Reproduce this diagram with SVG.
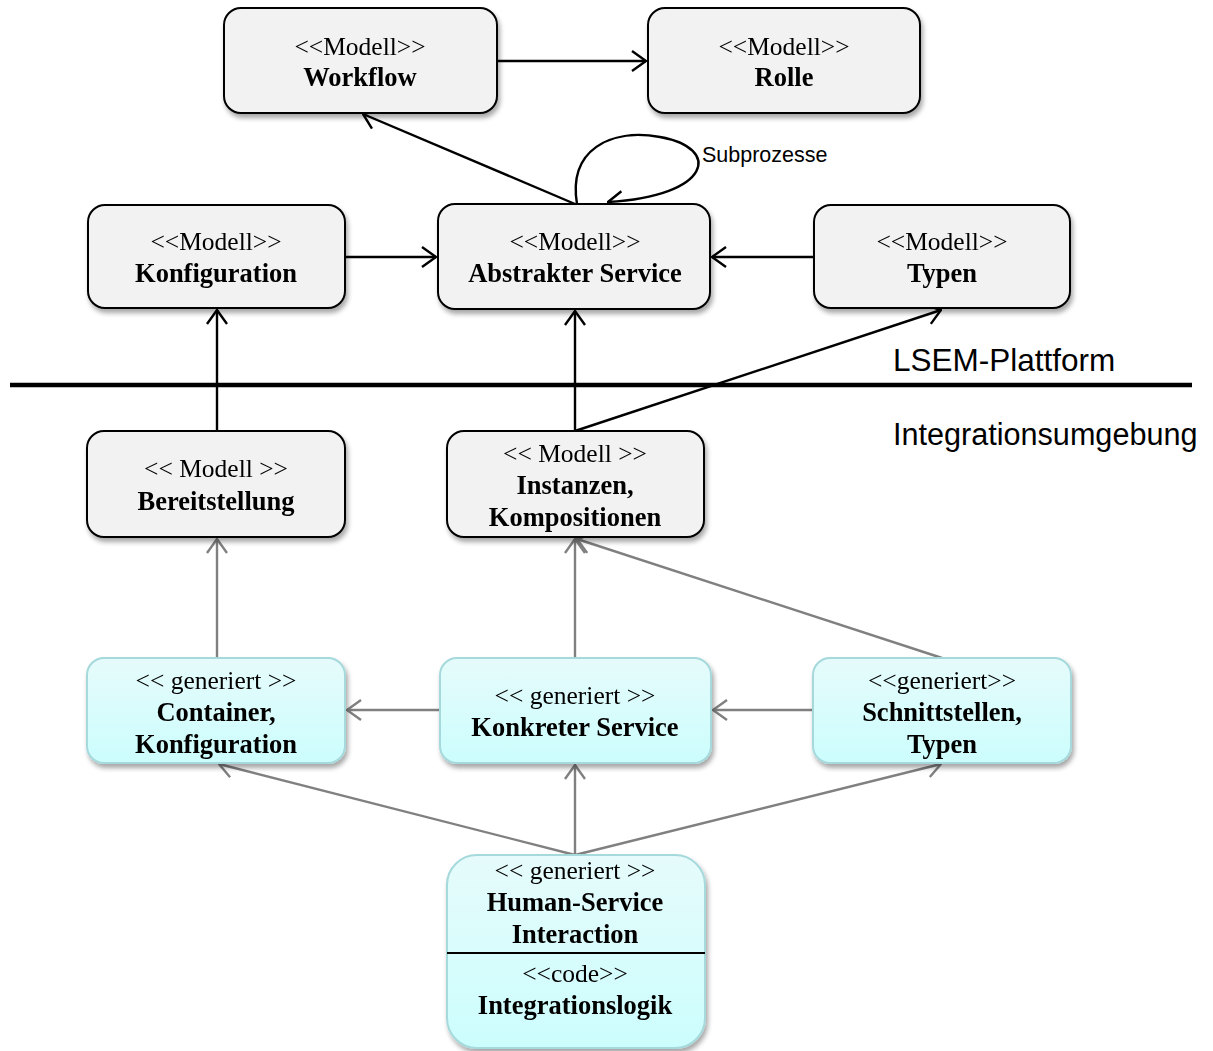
<svg xmlns="http://www.w3.org/2000/svg" width="1213" height="1051" viewBox="0 0 1213 1051">
  <defs>
    <linearGradient id="gen" x1="0" y1="0" x2="0" y2="1">
      <stop offset="0" stop-color="#e6fbfb"/>
      <stop offset="1" stop-color="#ccfdfd"/>
    </linearGradient>
    <filter id="shadow" x="-10%" y="-10%" width="125%" height="130%">
      <feGaussianBlur in="SourceAlpha" stdDeviation="2.5"/>
      <feOffset dx="2" dy="4" result="b"/>
      <feComponentTransfer><feFuncA type="linear" slope="0.35"/></feComponentTransfer>
      <feMerge><feMergeNode/><feMergeNode in="SourceGraphic"/></feMerge>
    </filter>
    <marker id="arrB" viewBox="0 0 16 24" refX="15" refY="12" markerWidth="16" markerHeight="24" markerUnits="userSpaceOnUse" orient="auto">
      <path d="M1,2 L15,12 L1,22" fill="none" stroke="#000" stroke-width="2.4"/>
    </marker>
    <marker id="arrG" viewBox="0 0 16 24" refX="15" refY="12" markerWidth="16" markerHeight="24" markerUnits="userSpaceOnUse" orient="auto">
      <path d="M1,2 L15,12 L1,22" fill="none" stroke="#808080" stroke-width="2.4"/>
    </marker>
  </defs>
  <style>
    .model { fill: #f2f2f2; stroke: #000; stroke-width: 2; }
    .gen { fill: url(#gen); stroke: #a6d9dc; stroke-width: 2; }
    .st { font-family: "Liberation Serif", "Times New Roman", serif; font-size: 25.5px; text-anchor: middle; fill: #000; }
    .nm { font-family: "Liberation Serif", "Times New Roman", serif; font-size: 26.5px; font-weight: bold; text-anchor: middle; fill: #000; }
    .lbl { font-family: "Liberation Sans", Arial, sans-serif; fill: #000; }
    .cb { fill: none; stroke: #000; stroke-width: 2.4; marker-end: url(#arrB); }
    .cg { fill: none; stroke: #808080; stroke-width: 2.4; marker-end: url(#arrG); }
  </style>
  <rect width="1213" height="1051" fill="#fff"/>

  <!-- platform boundary -->
  <line x1="10" y1="385" x2="1192" y2="385" stroke="#000" stroke-width="4.5"/>
  <text class="lbl" x="893" y="371" font-size="31.5">LSEM-Plattform</text>
  <text class="lbl" x="893" y="445" font-size="30.6">Integrationsumgebung</text>

  <!-- connectors -->
  <g id="connectors">
    <line class="cb" x1="497" y1="61" x2="646" y2="61"/>
    <line class="cb" x1="575" y1="204" x2="363" y2="114"/>
    <path class="cb" d="M577,204 C568,150 610,128 660,137 C722,148 712,196 608,202"/>
    <line class="cb" x1="345" y1="257" x2="436" y2="257"/>
    <line class="cb" x1="814" y1="257" x2="712" y2="257"/>
    <line class="cb" x1="217" y1="431" x2="217" y2="310"/>
    <line class="cb" x1="575" y1="431" x2="575" y2="311"/>
    <line class="cb" x1="575" y1="431" x2="941" y2="310"/>
    <line class="cg" x1="217" y1="658" x2="217" y2="539"/>
    <line class="cg" x1="575" y1="658" x2="575" y2="539"/>
    <line class="cg" x1="942" y1="658" x2="577" y2="539"/>
    <line class="cg" x1="440" y1="710" x2="347" y2="710"/>
    <line class="cg" x1="813" y1="710" x2="713" y2="710"/>
    <line class="cg" x1="575" y1="855" x2="219" y2="764"/>
    <line class="cg" x1="575" y1="855" x2="575" y2="765"/>
    <line class="cg" x1="575" y1="855" x2="941" y2="764"/>
  </g>
  <text class="lbl" x="702" y="162" font-size="21.5">Subprozesse</text>

  <g id="workflow" filter="url(#shadow)">
    <rect class="model" x="224" y="8" width="273" height="105" rx="17"/>
    <text class="st" x="360" y="55">&lt;&lt;Modell&gt;&gt;</text>
    <text class="nm" x="360" y="86">Workflow</text>
  </g>
  <g id="rolle" filter="url(#shadow)">
    <rect class="model" x="648" y="8" width="272" height="105" rx="17"/>
    <text class="st" x="784" y="55">&lt;&lt;Modell&gt;&gt;</text>
    <text class="nm" x="784" y="86">Rolle</text>
  </g>
  <g id="konfiguration" filter="url(#shadow)">
    <rect class="model" x="88" y="205" width="257" height="103" rx="17"/>
    <text class="st" x="216" y="250">&lt;&lt;Modell&gt;&gt;</text>
    <text class="nm" x="216" y="282">Konfiguration</text>
  </g>
  <g id="abstrakter-service" filter="url(#shadow)">
    <rect class="model" x="438" y="204" width="272" height="105" rx="17"/>
    <text class="st" x="575" y="250">&lt;&lt;Modell&gt;&gt;</text>
    <text class="nm" x="575" y="282">Abstrakter Service</text>
  </g>
  <g id="typen" filter="url(#shadow)">
    <rect class="model" x="814" y="205" width="256" height="103" rx="17"/>
    <text class="st" x="942" y="250">&lt;&lt;Modell&gt;&gt;</text>
    <text class="nm" x="942" y="282">Typen</text>
  </g>
  <g id="bereitstellung" filter="url(#shadow)">
    <rect class="model" x="87" y="431" width="258" height="106" rx="17"/>
    <text class="st" x="216" y="477">&lt;&lt; Modell &gt;&gt;</text>
    <text class="nm" x="216" y="510">Bereitstellung</text>
  </g>
  <g id="instanzen" filter="url(#shadow)">
    <rect class="model" x="447" y="431" width="257" height="106" rx="17"/>
    <text class="st" x="575" y="462">&lt;&lt; Modell &gt;&gt;</text>
    <text class="nm" x="575" y="494">Instanzen,</text>
    <text class="nm" x="575" y="526">Kompositionen</text>
  </g>
  <g id="container" filter="url(#shadow)">
    <rect class="gen" x="87" y="658" width="258" height="105" rx="17"/>
    <text class="st" x="216" y="689">&lt;&lt; generiert &gt;&gt;</text>
    <text class="nm" x="216" y="721">Container,</text>
    <text class="nm" x="216" y="753">Konfiguration</text>
  </g>
  <g id="konkreter-service" filter="url(#shadow)">
    <rect class="gen" x="440" y="658" width="271" height="105" rx="17"/>
    <text class="st" x="575" y="704">&lt;&lt; generiert &gt;&gt;</text>
    <text class="nm" x="575" y="736">Konkreter Service</text>
  </g>
  <g id="schnittstellen" filter="url(#shadow)">
    <rect class="gen" x="813" y="658" width="258" height="105" rx="17"/>
    <text class="st" x="942" y="689">&lt;&lt;generiert&gt;&gt;</text>
    <text class="nm" x="942" y="721">Schnittstellen,</text>
    <text class="nm" x="942" y="753">Typen</text>
  </g>
  <g id="human-service" filter="url(#shadow)">
    <rect class="gen" x="447" y="855" width="258" height="193" rx="30"/>
    <line x1="447" y1="953" x2="705" y2="953" stroke="#000" stroke-width="2"/>
    <text class="st" x="575" y="879">&lt;&lt; generiert &gt;&gt;</text>
    <text class="nm" x="575" y="911">Human-Service</text>
    <text class="nm" x="575" y="943">Interaction</text>
    <text class="st" x="575" y="982">&lt;&lt;code&gt;&gt;</text>
    <text class="nm" x="575" y="1014">Integrationslogik</text>
  </g>
</svg>
